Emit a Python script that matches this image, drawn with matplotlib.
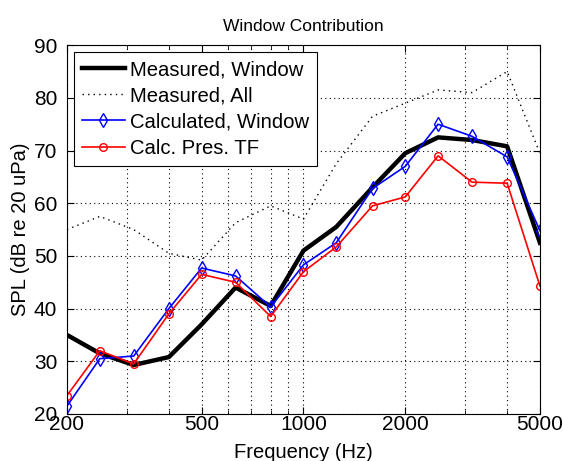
import matplotlib
matplotlib.use('Agg')
import matplotlib.pyplot as plt
from matplotlib.ticker import FixedLocator, FixedFormatter, NullFormatter

plt.rcParams['font.family'] = ['Liberation Sans', 'DejaVu Sans']

# 1/3 octave centre frequencies
freq = [200, 250, 315, 400, 500, 630, 800, 1000, 1250, 1600, 2000, 2500, 3150, 4000, 5000]

measured_window = [35.0, 31.5, 29.3, 30.8, 37.0, 44.0, 40.5, 51.0, 55.5, 63.0, 69.5, 72.5, 72.0, 70.8, 52.5]
measured_all = [55.0, 57.5, 55.0, 50.5, 49.2, 56.3, 59.5, 57.0, 67.5, 76.5, 79.0, 81.5, 81.0, 85.0, 69.5]
calc_window = [21.5, 30.5, 31.0, 40.0, 47.7, 46.2, 40.3, 48.3, 52.5, 62.8, 67.0, 75.0, 72.7, 68.8, 54.8]
calc_pres_tf = [23.5, 32.0, 29.5, 39.0, 46.5, 45.0, 38.5, 47.0, 51.7, 59.5, 61.2, 69.0, 64.0, 63.8, 44.3]

major_ticks = [200, 500, 1000, 2000, 5000]
minor_ticks = [300, 400, 600, 700, 800, 900, 3000, 4000]
y_ticks = [20, 30, 40, 50, 60, 70, 80, 90]


def main():
    fig = plt.figure(figsize=(5.63, 4.61), dpi=100)
    ax = fig.add_axes([0.119, 0.102, 0.840, 0.800])

    ax.plot(freq, measured_window, color='black', lw=3.2, label='Measured, Window')
    ax.plot(freq, measured_all, color='black', lw=1.0, ls=(0, (1, 3)), label='Measured, All')
    ax.plot(freq, calc_window, color='blue', lw=1.2, marker='d', ms=7,
            mfc='none', mec='blue', mew=1.0, label='Calculated, Window')
    ax.plot(freq, calc_pres_tf, color='red', lw=1.2, marker='o', ms=5.5,
            mfc='none', mec='red', mew=1.0, label='Calc. Pres. TF')

    ax.set_xscale('log')
    ax.set_xlim(200, 5000)
    ax.set_ylim(20, 90)
    ax.xaxis.set_major_locator(FixedLocator(major_ticks))
    ax.xaxis.set_major_formatter(FixedFormatter([str(t) for t in major_ticks]))
    ax.xaxis.set_minor_locator(FixedLocator(minor_ticks))
    ax.xaxis.set_minor_formatter(NullFormatter())
    ax.set_yticks(y_ticks)

    ax.grid(True, which='both', color='black', ls=(0, (1, 3)), lw=0.8)
    ax.tick_params(which='both', direction='in', top=True, right=True, labelsize=15)
    ax.tick_params(which='major', length=5)
    ax.tick_params(which='minor', length=3)
    ax.tick_params(axis='x', pad=1)
    ax.tick_params(axis='y', pad=7)

    ax.set_title('Window Contribution', fontsize=12.5, pad=10)
    ax.set_xlabel('Frequency (Hz)', fontsize=14.5, labelpad=6)
    ax.set_ylabel('SPL (dB re 20 uPa)', fontsize=14.5, labelpad=3)

    leg = ax.legend(loc='upper left', fontsize=14.6, fancybox=False, framealpha=1,
                    edgecolor='black', handlelength=2.1, handletextpad=0.25,
                    borderpad=0.4, labelspacing=0.35, borderaxespad=0.35)
    leg.get_frame().set_linewidth(0.8)

    fig.savefig('out.png', dpi=100)


if __name__ == '__main__':
    main()
